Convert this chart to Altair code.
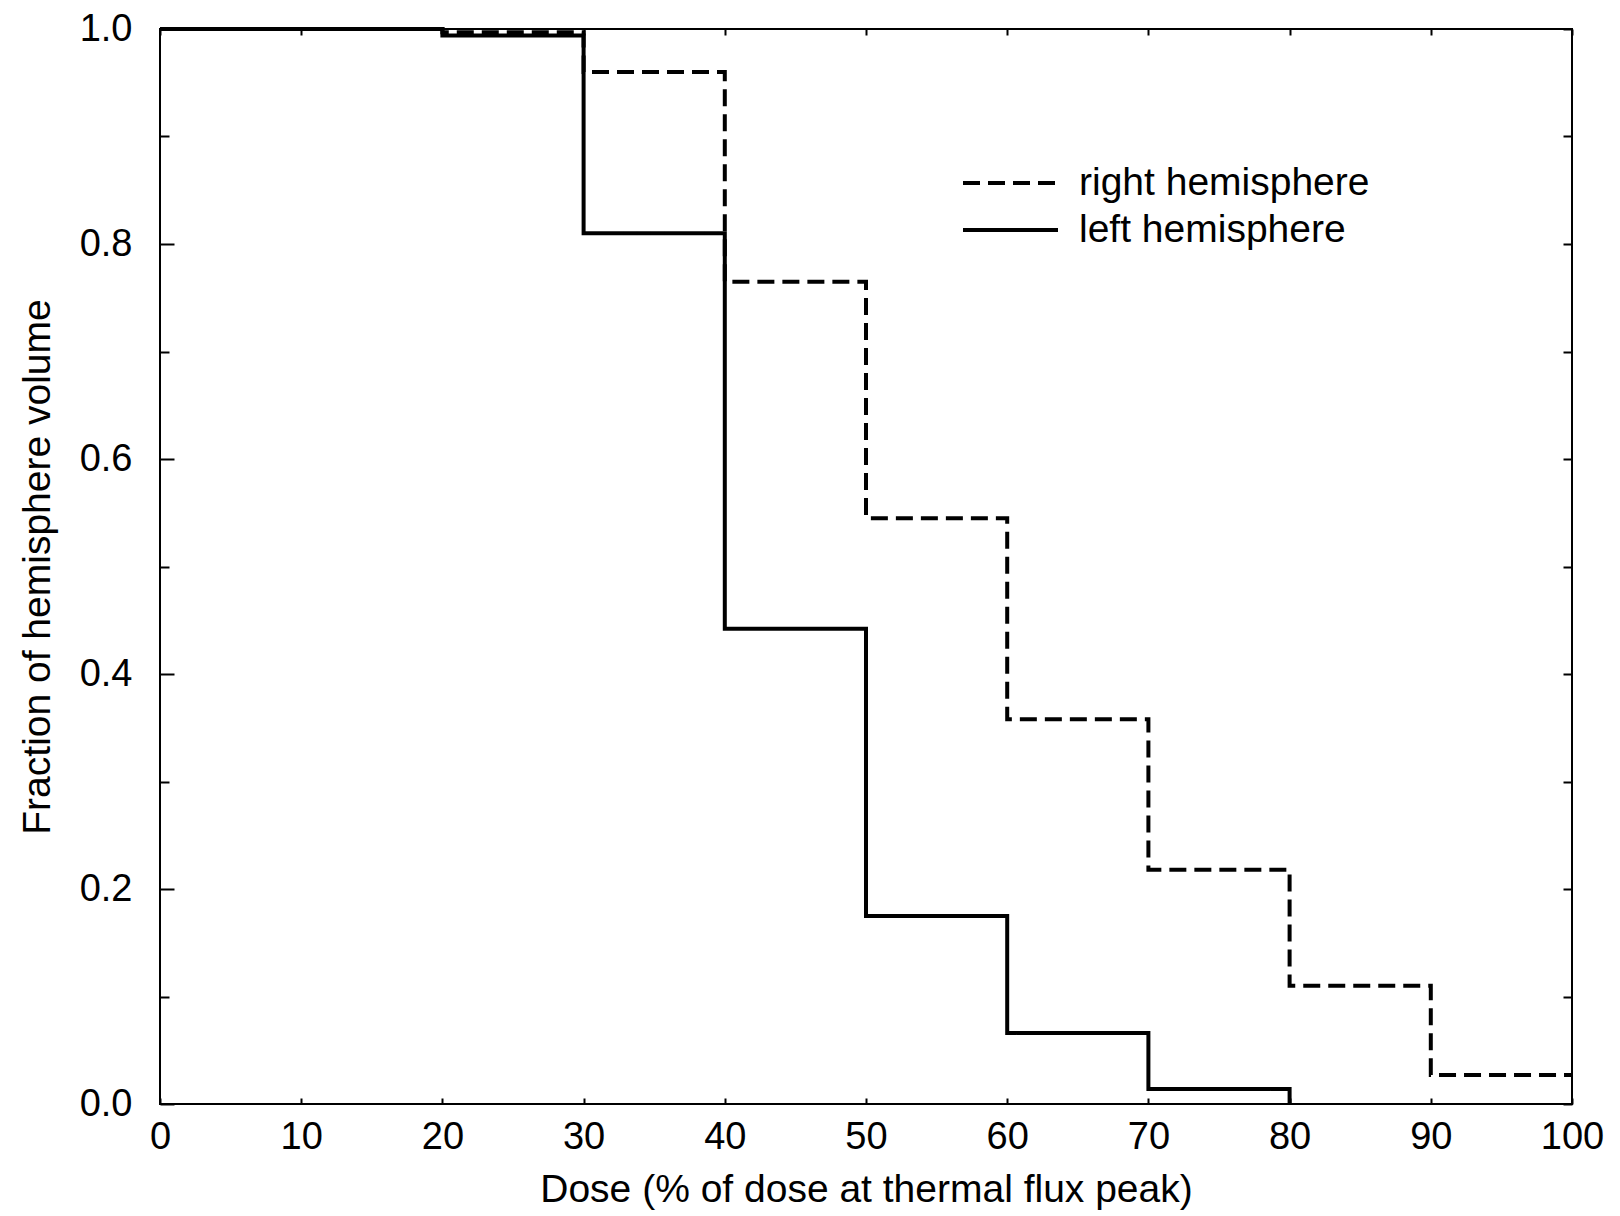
import altair as alt
import pandas as pd

# ---- data ----
dose_right = [0, 10, 20, 30, 40, 50, 60, 70, 80, 90, 100]
frac_right = [1.0, 1.0, 0.997, 0.96, 0.765, 0.545, 0.358, 0.218, 0.11, 0.027, 0.027]
dose_left = [0, 10, 20, 30, 40, 50, 60, 70, 80]
frac_left = [1.0, 1.0, 0.994, 0.81, 0.442, 0.175, 0.066, 0.014, 0.0]
series_names = ["right hemisphere", "left hemisphere"]
x_ticks = [0, 10, 20, 30, 40, 50, 60, 70, 80, 90, 100]
y_major = [0.0, 0.2, 0.4, 0.6, 0.8, 1.0]
y_minor = [0.1, 0.3, 0.5, 0.7, 0.9]
y_all = [0.0, 0.1, 0.2, 0.3, 0.4, 0.5, 0.6, 0.7, 0.8, 0.9, 1.0]

FONT = "Liberation Sans"

df = pd.DataFrame({
    "dose": dose_right + dose_left,
    "fraction": frac_right + frac_left,
    "series": [series_names[0]] * len(dose_right) + [series_names[1]] * len(dose_left),
})

x_scale = alt.Scale(domain=[0, 100], nice=False, zero=False)
y_scale = alt.Scale(domain=[0, 1], nice=False)

AX = dict(domain=False, grid=False, labelFont=FONT, labelFontSize=38, labelColor="black",
          tickColor="black", tickWidth=2, titleFont=FONT, titleFontSize=39, titleColor="black",
          titleFontWeight="normal")

lines = alt.Chart(df).mark_line(
    interpolate="step-after", strokeWidth=4, color="black", strokeCap="butt", strokeJoin="miter"
).encode(
    x=alt.X("dose:Q", scale=x_scale,
            axis=alt.Axis(orient="bottom", values=x_ticks, tickSize=6, offset=-6, labelPadding=14,
                          format="d", title="Dose (% of dose at thermal flux peak)", titlePadding=14,
                          labelFlush=False, **AX)),
    y=alt.Y("fraction:Q", scale=y_scale,
            axis=alt.Axis(orient="left", values=y_major, tickSize=14, offset=-14, labelPadding=28,
                          format=".1f", title="Fraction of hemisphere volume", titlePadding=22,
                          labelFlush=False, **AX)),
    strokeDash=alt.StrokeDash(
        "series:N",
        scale=alt.Scale(domain=series_names, range=[[17, 8], [1, 0]]),
        legend=alt.Legend(title=None, orient="none", legendX=801, legendY=134,
                          symbolType="stroke", symbolSize=9025, symbolStrokeWidth=4,
                          symbolStrokeColor="black", clipHeight=40, rowPadding=7,
                          labelFont=FONT, labelFontSize=39, labelColor="black",
                          labelOffset=19, labelLimit=0, padding=0),
    ),
)

ghost_minor = alt.Chart(df).mark_line(opacity=0).encode(
    x=alt.X("dose:Q", scale=x_scale,
            axis=alt.Axis(orient="top", values=x_ticks, tickSize=6, offset=-6, labels=False,
                          title=None, domain=False, grid=False, tickColor="black", tickWidth=2)),
    y=alt.Y("fraction:Q", scale=y_scale,
            axis=alt.Axis(orient="left", values=y_minor, tickSize=9, offset=-9, labels=False,
                          title=None, domain=False, grid=False, tickColor="black", tickWidth=2)),
)

ghost_right = alt.Chart(df).mark_line(opacity=0).encode(
    x=alt.X("dose:Q", scale=x_scale, axis=None),
    y=alt.Y("fraction:Q", scale=y_scale,
            axis=alt.Axis(orient="right", values=y_all, tickSize=9, offset=-9, labels=False,
                          title=None, domain=False, grid=False, tickColor="black", tickWidth=2)),
)

chart = alt.layer(ghost_minor, ghost_right, lines).resolve_axis(
    x="independent", y="independent"
).properties(
    width=1412, height=1075,
    padding={"left": 152, "top": 21, "right": 40, "bottom": 112},
    autosize=alt.AutoSizeParams(type="none"),
    background="white",
).configure_view(stroke="black", strokeWidth=2)

chart.save("out.html", embed_options={"renderer": "svg", "actions": False})
